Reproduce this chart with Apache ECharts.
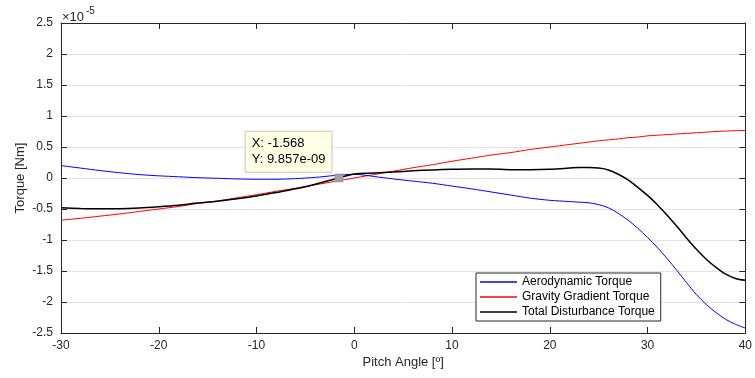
<!DOCTYPE html>
<html>
<head>
<meta charset="utf-8">
<script src="https://cdn.jsdelivr.net/npm/echarts@6/dist/echarts.min.js"></script>
<style>
  html, body { margin: 0; padding: 0; background: #fff; }
  #chart { width: 755px; height: 378px; }
</style>
</head>
<body>
<div id="chart"></div>
<script>
// torque values are in units of 1e-5 Nm (axis shows the x10^-5 multiplier)
const pitchAngles = [-30, -28, -26, -24, -22, -20, -18, -16, -14, -12, -10, -8, -6, -4, -2, 0,
  2, 4, 6, 8, 10, 12, 14, 16, 18, 20,
  21, 22, 23, 24, 25, 26, 27, 28, 29, 30, 31, 32, 33, 34, 35, 36, 37, 38, 39, 40];
const aeroTorque = [0.20, 0.16, 0.12, 0.085, 0.055, 0.035, 0.02, 0.005, -0.005, -0.015, -0.02, -0.02, -0.01, 0.01, 0.04, 0.06,
  0.025, -0.015, -0.05, -0.085, -0.13, -0.175, -0.225, -0.275, -0.325, -0.36,
  -0.37, -0.38, -0.39, -0.40, -0.43, -0.48, -0.57, -0.68, -0.81, -0.96, -1.12, -1.30, -1.49, -1.69, -1.88, -2.04, -2.17, -2.28, -2.36, -2.42];
const gravityTorque = [-0.68, -0.65, -0.615, -0.58, -0.54, -0.50, -0.46, -0.41, -0.37, -0.32, -0.27, -0.215, -0.165, -0.11, -0.055, 0.0,
  0.055, 0.11, 0.165, 0.215, 0.27, 0.32, 0.37, 0.41, 0.46, 0.50,
  0.52, 0.54, 0.56, 0.58, 0.60, 0.615, 0.63, 0.65, 0.66, 0.68, 0.69, 0.70, 0.71, 0.72, 0.73, 0.74, 0.75, 0.757, 0.763, 0.768];
const totalTorque = [-0.48, -0.49, -0.495, -0.495, -0.485, -0.465, -0.44, -0.405, -0.375, -0.335, -0.29, -0.235, -0.175, -0.10, -0.015, 0.065,
  0.08, 0.095, 0.115, 0.13, 0.14, 0.145, 0.145, 0.135, 0.135, 0.14,
  0.15, 0.16, 0.17, 0.17, 0.16, 0.13, 0.06, -0.03, -0.15, -0.28, -0.43, -0.60, -0.78, -0.97, -1.15, -1.31, -1.44, -1.55, -1.62, -1.65];
const seriesNames = ['Aerodynamic Torque', 'Gravity Gradient Torque', 'Total Disturbance Torque'];
const dataTip = { x: -1.568, y: 0.0009857, label: 'X: -1.568\nY: 9.857e-09' };

const font = 'Liberation Sans, Arial, Helvetica, sans-serif';
const axisColor = '#262626';

function pairs(values) {
  return pitchAngles.map((x, i) => [x, values[i]]);
}

const boxAxis = {
  axisLine: { show: true, onZero: false, lineStyle: { color: axisColor, width: 1 } },
  axisTick: { show: true, inside: true, length: 6, lineStyle: { color: axisColor } },
  axisLabel: { show: false },
  splitLine: { show: false }
};

const option = {
  animation: false,
  backgroundColor: '#fff',
  grid: { left: 61, right: 9, top: 23, bottom: 45, containLabel: false },
  xAxis: [
    {
      type: 'value', min: -30, max: 40, interval: 10,
      name: 'Pitch Angle [º]', nameLocation: 'middle', nameGap: 23, nameMoveOverlap: false,
      nameTextStyle: { fontFamily: font, fontSize: 13, color: axisColor },
      axisLine: { onZero: false, lineStyle: { color: axisColor, width: 1 } },
      axisTick: { inside: true, length: 6, lineStyle: { color: axisColor } },
      axisLabel: { fontFamily: font, fontSize: 12, color: axisColor, margin: 7 },
      splitLine: { show: false }
    },
    Object.assign({ type: 'value', position: 'top', min: -30, max: 40, interval: 10 }, boxAxis)
  ],
  yAxis: [
    {
      type: 'value', min: -2.5, max: 2.5, interval: 0.5,
      name: 'Torque [Nm]', nameLocation: 'middle', nameGap: 34, nameRotate: 90, nameMoveOverlap: false,
      nameTextStyle: { fontFamily: font, fontSize: 13, color: axisColor },
      axisLine: { onZero: false, lineStyle: { color: axisColor, width: 1 } },
      axisTick: { inside: true, length: 6, lineStyle: { color: axisColor } },
      axisLabel: { fontFamily: font, fontSize: 12, color: axisColor, margin: 8 },
      splitLine: { show: true, lineStyle: { color: '#e3e3e3', width: 1 } }
    },
    Object.assign({ type: 'value', position: 'right', min: -2.5, max: 2.5, interval: 0.5 }, boxAxis)
  ],
  legend: {
    orient: 'vertical',
    left: 476, top: 273,
    icon: 'rect',
    itemWidth: 37, itemHeight: 1.5, itemGap: 1,
    padding: [2, 6, 2, 4],
    backgroundColor: '#fff',
    borderColor: axisColor, borderWidth: 1,
    textStyle: { fontFamily: font, fontSize: 12, color: '#000', lineHeight: 14 },
    data: seriesNames
  },
  graphic: [
    {
      type: 'text', left: 62, top: 11,
      style: { text: '×10', fontFamily: font, fontSize: 13, fill: axisColor }
    },
    {
      type: 'text', left: 86, top: 6,
      style: { text: '-5', fontFamily: font, fontSize: 10, fill: axisColor }
    }
  ],
  series: [
    {
      name: seriesNames[0], type: 'line', data: pairs(aeroTorque),
      symbol: 'none', smooth: 0.3, color: '#0000ff',
      lineStyle: { width: 1, color: '#0000ff' }, z: 3
    },
    {
      name: seriesNames[1], type: 'line', data: pairs(gravityTorque),
      symbol: 'none', smooth: 0.3, color: '#ff0000',
      lineStyle: { width: 1, color: '#ff0000' }, z: 2
    },
    {
      name: seriesNames[2], type: 'line', data: pairs(totalTorque),
      symbol: 'none', smooth: 0.3, color: '#000000',
      lineStyle: { width: 1.5, color: '#000000' }, z: 4,
      markPoint: {
        symbol: 'rect', symbolSize: 8,
        itemStyle: { color: '#a0a0a0', borderColor: '#8a8a8a', borderWidth: 0.5 },
        data: [{ coord: [dataTip.x, dataTip.y], value: dataTip.label }],
        label: {
          show: true,
          formatter: '{c}',
          position: [-89, -42],
          align: 'left', verticalAlign: 'top',
          fontFamily: font, fontSize: 13, color: '#000', lineHeight: 16,
          backgroundColor: '#ffffe6', borderColor: '#c8c8b4', borderWidth: 1,
          padding: [4, 6, 4, 6]
        }
      }
    }
  ]
};

const chart = echarts.init(document.getElementById('chart'), null, {
  width: 755,
  height: 378,
  renderer: 'canvas',
  devicePixelRatio: 1
});
chart.setOption(option);
</script>
</body>
</html>
